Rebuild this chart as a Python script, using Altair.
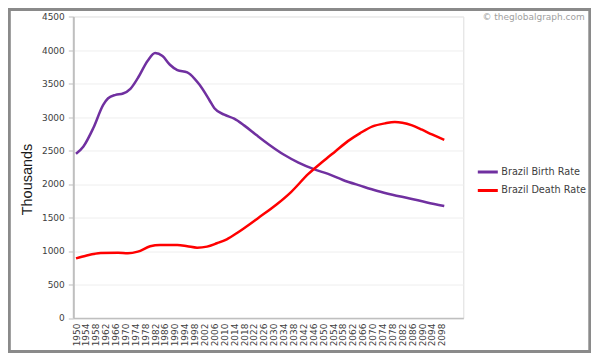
import altair as alt
import pandas as pd

# ---- data ----
birth_years = [1950, 1953, 1957, 1961, 1963, 1966, 1969, 1972, 1975, 1979, 1982, 1985, 1988,
               1991, 1995, 1998, 2000, 2004, 2006, 2010, 2014, 2018, 2023, 2028, 2034,
               2040, 2046, 2052, 2058, 2065, 2072, 2078, 2085, 2092, 2099]
birth_values = [2450, 2560, 2835, 3180, 3280, 3330, 3350, 3420, 3580, 3840, 3955, 3910, 3780,
                3700, 3665, 3570, 3480, 3250, 3130, 3035, 2975, 2875, 2730, 2590, 2440,
                2320, 2225, 2150, 2060, 1975, 1895, 1840, 1785, 1725, 1672]

death_years = [1950, 1954, 1960, 1967, 1971, 1975, 1980, 1984, 1991, 1995, 1999, 2003,
               2007, 2011, 2015, 2018, 2024, 2031, 2037, 2044, 2050, 2055, 2060, 2065,
               2070, 2075, 2079, 2082, 2086, 2090, 2094, 2099]
death_values = [890, 930, 970, 975, 965, 990, 1070, 1090, 1090, 1072, 1050, 1065,
                1115, 1175, 1265, 1340, 1500, 1690, 1880, 2150, 2340, 2490, 2640, 2760,
                2860, 2905, 2925, 2915, 2875, 2810, 2740, 2660]

series_names = ["Brazil Birth Rate", "Brazil Death Rate"]
series_colors = ["#7030A0", "#FF0000"]
x_tick_years = list(range(1950, 2099, 4))
y_ticks = list(range(0, 4501, 500))

rows = []
for yr, v in zip(birth_years, birth_values):
    rows.append({"Year": yr, "Value": v, "Series": series_names[0]})
for yr, v in zip(death_years, death_values):
    rows.append({"Year": yr, "Value": v, "Series": series_names[1]})
df = pd.DataFrame(rows)

W, H = 390, 301.5
one = pd.DataFrame({"k": [0]})

frame = alt.Chart(one).mark_rect(filled=False, stroke="#8a8a8a", strokeWidth=3).encode(
    x=alt.value(-64), x2=alt.value(516.5), y=alt.value(-7), y2=alt.value(335)
)

lines = alt.Chart(df).mark_line(strokeWidth=2.5, interpolate="monotone").encode(
    x=alt.X("Year:Q",
            scale=alt.Scale(domain=[1948.9, 2106.7], nice=False, zero=False),
            axis=alt.Axis(values=x_tick_years, format="d", labelAngle=270,
                          labelFont="DejaVu Sans", labelFontSize=9, labelColor="#404040",
                          labelPadding=5, ticks=False, grid=False, title=None,
                          domainColor="#bfbfbf", domainWidth=1.5, labelOverlap=False)),
    y=alt.Y("Value:Q",
            scale=alt.Scale(domain=[0, 4500], nice=False),
            axis=alt.Axis(values=y_ticks, format="d", labelFont="DejaVu Sans",
                          labelFontSize=9, labelColor="#404040", labelPadding=4,
                          tickSize=5, tickColor="#bfbfbf", grid=True, gridColor="#eeeeee",
                          domainColor="#bfbfbf", domainWidth=2,
                          title="Thousands", titleFont="Liberation Sans", titleFontSize=14.5,
                          titleFontWeight="normal", titleColor="#1a1a1a",
                          titleX=-39, titleY=162.5, titleAngle=270, titleBaseline="bottom",
                          titleAlign="center")),
    color=alt.Color("Series:N",
                    scale=alt.Scale(domain=series_names, range=series_colors),
                    legend=alt.Legend(title=None, orient="none", legendX=403, legendY=144,
                                      symbolType="stroke", symbolSize=400,
                                      symbolStrokeWidth=3, labelFont="DejaVu Sans",
                                      labelFontSize=9.7, labelColor="#404040",
                                      labelOffset=2, rowPadding=0.5)),
)

mark = alt.Chart(one).mark_text(text="© theglobalgraph.com", align="right", baseline="middle",
                                font="DejaVu Sans", fontSize=9, color="#a0a0a0").encode(
    x=alt.value(511.5), y=alt.value(0.5)
)

chart = alt.layer(frame, lines, mark).properties(
    width=W, height=H,
    autosize=alt.AutoSizeParams(type="none"),
    padding={"left": 65.3, "top": 8.5, "right": 128, "bottom": 35},
).configure_view(stroke=None).configure(background="white")

chart.save("out.html", embed_options={"renderer": "svg", "actions": False})
